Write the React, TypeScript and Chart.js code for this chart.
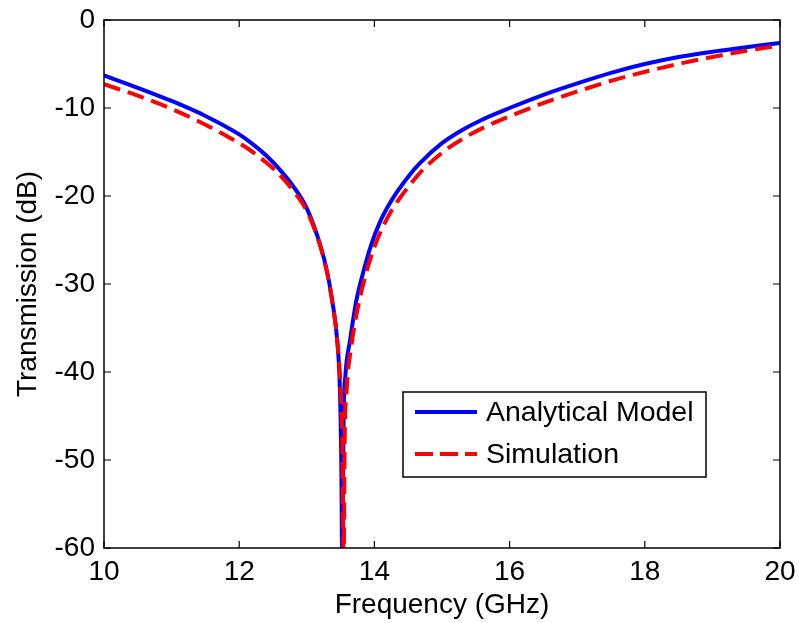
import React, { useEffect, useRef } from "react";
import { Chart, registerables } from "chart.js";

Chart.register(...registerables);

// ---- data ----
const modelFreq = [
  10.0, 10.5, 11.0, 11.5, 12.0, 12.2, 12.4, 12.6, 12.8, 13.0, 13.2, 13.3, 13.37, 13.45,
  13.49, 13.51, 13.525, 13.545, 13.57, 13.64, 13.73, 13.83, 13.95, 14.08, 14.2, 14.33, 14.5, 14.67,
  15.0, 15.3, 15.6, 16.0, 16.5, 17.0, 17.5, 18.0, 18.5, 19.0, 19.5, 20.0,
];
const modelDb = [
  -6.3, -7.7, -9.2, -10.9, -13.0, -14.1, -15.4, -17.0, -18.9, -21.4, -25.6, -28.6, -31.6, -36.4,
  -42, -50, -62, -45, -40.5, -36.4, -32, -28.8, -25.6, -23.0, -21.2, -19.6, -17.8, -16.3,
  -14.0, -12.5, -11.3, -10.0, -8.5, -7.2, -6.0, -5.0, -4.2, -3.6, -3.1, -2.6,
];
const simFreq = [
  10.0, 10.5, 11.0, 11.5, 12.0, 12.2, 12.4, 12.6, 12.8, 13.0, 13.2, 13.3, 13.37, 13.45,
  13.5, 13.53, 13.545, 13.56, 13.59, 13.66, 13.76, 13.87, 13.99, 14.12, 14.25, 14.38, 14.55, 14.72,
  15.05, 15.35, 15.65, 16.05, 16.55, 17.05, 17.55, 18.05, 18.55, 19.0, 19.5, 20.0,
];
const simDb = [
  -7.3, -8.6, -10.1, -11.9, -14.0, -15.0, -16.2, -17.6, -19.4, -21.7, -25.7, -28.7, -31.7, -36.4,
  -42, -50, -62, -48, -42, -37, -32.5, -29, -26.0, -23.6, -21.7, -20.2, -18.5, -17.0,
  -14.8, -13.3, -12.1, -10.8, -9.3, -8.0, -6.8, -5.8, -4.9, -4.2, -3.5, -2.9,
];
const xTicks = [10, 12, 14, 16, 18, 20];
const yTicks = [0, -10, -20, -30, -40, -50, -60];
const seriesNames = ["Analytical Model", "Simulation"];
const xTitle = "Frequency (GHz)";
const yTitle = "Transmission (dB)";

const FONT = '"Liberation Sans", Arial, Helvetica, sans-serif';
const BLUE = "#0000ff";
const RED = "#ff0000";
const DASH = [17, 8];

const framePlugin = {
  id: "frame",
  afterDatasetsDraw(chart: any) {
    const { ctx, chartArea: a, scales } = chart;
    const x = scales.x;
    const y = scales.y;
    ctx.save();
    ctx.strokeStyle = "#000";
    ctx.lineWidth = 1.5;
    ctx.strokeRect(a.left, a.top, a.right - a.left, a.bottom - a.top);
    const tl = 7;
    ctx.lineWidth = 1.2;
    ctx.beginPath();
    xTicks.forEach((v) => {
      const px = x.getPixelForValue(v);
      ctx.moveTo(px, a.bottom);
      ctx.lineTo(px, a.bottom - tl);
      ctx.moveTo(px, a.top);
      ctx.lineTo(px, a.top + tl);
    });
    yTicks.forEach((v) => {
      const py = y.getPixelForValue(v);
      ctx.moveTo(a.left, py);
      ctx.lineTo(a.left + tl, py);
      ctx.moveTo(a.right, py);
      ctx.lineTo(a.right - tl, py);
    });
    ctx.stroke();

    // legend
    const lx = a.left + 299;
    const ly = a.top + 372;
    const lw = 303;
    const lh = 85;
    ctx.fillStyle = "#fff";
    ctx.fillRect(lx, ly, lw, lh);
    ctx.lineWidth = 1.5;
    ctx.strokeStyle = "#000";
    ctx.strokeRect(lx, ly, lw, lh);
    const rows = [ly + 20, ly + 62];
    const colors = [BLUE, RED];
    ctx.font = `28.5px ${FONT}`;
    ctx.textBaseline = "middle";
    ctx.textAlign = "left";
    rows.forEach((ry, i) => {
      ctx.beginPath();
      ctx.strokeStyle = colors[i];
      ctx.lineWidth = 4;
      ctx.setLineDash(i === 1 ? [18, 7] : []);
      ctx.moveTo(lx + 12, ry);
      ctx.lineTo(lx + 74, ry);
      ctx.stroke();
      ctx.setLineDash([]);
      ctx.fillStyle = "#000";
      ctx.fillText(seriesNames[i], lx + 83, ry + 1);
    });
    ctx.restore();
  },
};

export default function App() {
  const ref = useRef<HTMLCanvasElement>(null);
  useEffect(() => {
    if (!ref.current) return;
    const chart = new Chart(ref.current, {
      type: "line",
      data: {
        datasets: [
          {
            label: seriesNames[0],
            data: modelFreq.map((f, i) => ({ x: f, y: modelDb[i] })),
            borderColor: BLUE,
            borderWidth: 4,
            pointRadius: 0,
            fill: false,
            cubicInterpolationMode: "monotone",
            order: 1,
            clip: 0,
          },
          {
            label: seriesNames[1],
            data: simFreq.map((f, i) => ({ x: f, y: simDb[i] })),
            borderColor: RED,
            borderWidth: 4,
            borderDash: DASH,
            pointRadius: 0,
            fill: false,
            cubicInterpolationMode: "monotone",
            order: 0,
            clip: 0,
          },
        ],
      },
      options: {
        responsive: false,
        animation: false,
        events: [],
        layout: { padding: { left: 0, top: 20, right: 19, bottom: 0 } },
        plugins: { legend: { display: false }, tooltip: { enabled: false } },
        scales: {
          x: {
            type: "linear",
            min: 10,
            max: 20,
            grid: { display: false, drawTicks: false },
            border: { display: false },
            ticks: {
              stepSize: 2,
              autoSkip: false,
              maxRotation: 0,
              padding: 7,
              color: "#000",
              font: { family: FONT, size: 28 },
              callback: (v: any) => String(v),
            },
            title: {
              display: true,
              text: xTitle,
              color: "#000",
              font: { family: FONT, size: 28, lineHeight: 1.2 },
              padding: { top: 0, bottom: 1 },
            },
            afterFit: (s: any) => {
              s.height = 75;
              s.paddingLeft = 0;
              s.paddingRight = 0;
            },
          },
          y: {
            type: "linear",
            min: -60,
            max: 0,
            grid: { display: false, drawTicks: false },
            border: { display: false },
            ticks: {
              stepSize: 10,
              autoSkip: false,
              padding: 9,
              color: "#000",
              font: { family: FONT, size: 28 },
              callback: (v: any) => String(v),
            },
            title: {
              display: true,
              text: yTitle,
              color: "#000",
              font: { family: FONT, size: 28, lineHeight: 1.2 },
              padding: { top: 11, bottom: 0 },
            },
            afterFit: (s: any) => {
              s.width = 104;
              s.paddingTop = 0;
              s.paddingBottom = 0;
            },
          },
        },
      },
      plugins: [framePlugin],
    });
    return () => chart.destroy();
  }, []);
  return (
    <div style={{ position: "fixed", left: 0, top: 0, width: 799, height: 623, background: "#fff" }}>
      <canvas ref={ref} width={799} height={623} style={{ display: "block" }} />
    </div>
  );
}
